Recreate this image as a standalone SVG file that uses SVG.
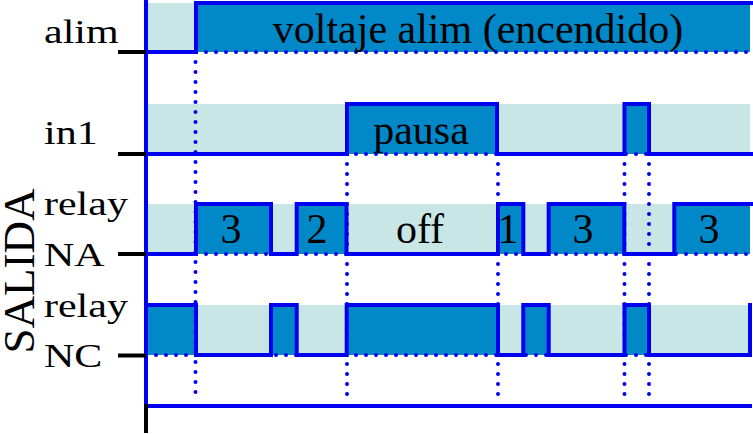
<svg xmlns="http://www.w3.org/2000/svg" width="753" height="434" viewBox="0 0 753 434">
<style>
.band{fill:#c8e6e6}
.dark{fill:#0088c8}
.sig{fill:none;stroke:#0000f0;stroke-width:4;stroke-linejoin:miter;stroke-linecap:square}
.dot{fill:none;stroke:#0000f0;stroke-width:4;stroke-dasharray:0 10;stroke-linecap:round}
.tick{stroke:#000;stroke-width:4}
.axis{stroke:#0000f0;stroke-width:4}
text{font-family:"Liberation Serif","Times New Roman",serif;font-size:42px;fill:#000}
.mid{text-anchor:middle}
</style>
<rect width="753" height="434" fill="#fff"/>
<g id="bands">
<rect class="band" x="147" y="3" width="49" height="49"/>
<rect class="band" x="147" y="104" width="603" height="50"/>
<rect class="band" x="147" y="204" width="603" height="50"/>
<rect class="band" x="147" y="305" width="603" height="50"/>
</g>
<g id="fills">
<rect class="dark" x="196" y="3" width="554" height="49"/>
<rect class="dark" x="347" y="104" width="150" height="50"/>
<rect class="dark" x="624.5" y="104" width="24.5" height="50"/>
<rect class="dark" x="196" y="204" width="75" height="50"/>
<rect class="dark" x="296.7" y="204" width="50" height="50"/>
<rect class="dark" x="498" y="204" width="25.3" height="50"/>
<rect class="dark" x="548.7" y="204" width="75.6" height="50"/>
<rect class="dark" x="674.3" y="204" width="75.7" height="50"/>
<rect class="dark" x="147" y="305" width="49" height="50"/>
<rect class="dark" x="271" y="305" width="25.7" height="50"/>
<rect class="dark" x="346.7" y="305" width="151.3" height="50"/>
<rect class="dark" x="523.3" y="305" width="25.4" height="50"/>
<rect class="dark" x="624.5" y="305" width="24.5" height="50"/>
</g>
<g id="connectors">
<path class="dot" d="M196,52H752M146,154H752M146,254H752M146,355H752"/>
<path class="dot" d="M195.5,62V400M347,164V400M498,164V400M624.5,164V400M649,164V400"/>
<path class="sig" d="M146,52H196V3H752"/>
<path class="sig" d="M146,154H347V104H497V154H624.5V104H649V154H752"/>
<path class="sig" d="M146,254H196V204H271V254H296.7V204H346.5V254H498V204H523.3V254H548.7V204H624.3V254H674.3V204H752"/>
<path class="sig" d="M146,305H196V355H271V305H296.7V355H346.7V305H498V355H523.3V305H548.7V355H624.5V305H649V355H750V305"/>
<line class="axis" x1="146" y1="0" x2="146" y2="406"/>
<line class="axis" x1="146" y1="406" x2="752" y2="406"/>
<line class="tick" x1="146" y1="404" x2="146" y2="433"/>
<line class="tick" x1="118" y1="52" x2="146" y2="52"/>
<line class="tick" x1="118" y1="154" x2="146" y2="154"/>
<line class="tick" x1="118" y1="254" x2="146" y2="254"/>
<line class="tick" x1="118" y1="355.5" x2="146" y2="355.5"/>
</g>
<g id="labels">
<text transform="translate(44,43) scale(1,0.82)">alim</text>
<text transform="translate(44,144) scale(1,0.82)">in1</text>
<text transform="translate(44,215) scale(1,0.82)">relay</text>
<text transform="translate(44,266) scale(1,0.82)">NA</text>
<text transform="translate(44,317) scale(1,0.82)">relay</text>
<text transform="translate(44,367) scale(1,0.82)">NC</text>
<text class="mid" style="font-size:45px" transform="translate(34,271) rotate(-90)">SALIDA</text>
</g>
<g id="node-alim"><text class="mid" x="478" y="43">voltaje alim (encendido)</text></g>
<g id="node-in1"><text class="mid" x="421" y="144">pausa</text></g>
<g id="node-na">
<text class="mid" x="231" y="243">3</text>
<text class="mid" x="317" y="243">2</text>
<text class="mid" x="420" y="243">off</text>
<text class="mid" x="508" y="243">1</text>
<text class="mid" x="583" y="243">3</text>
<text class="mid" x="709" y="243">3</text>
</g>
</svg>
